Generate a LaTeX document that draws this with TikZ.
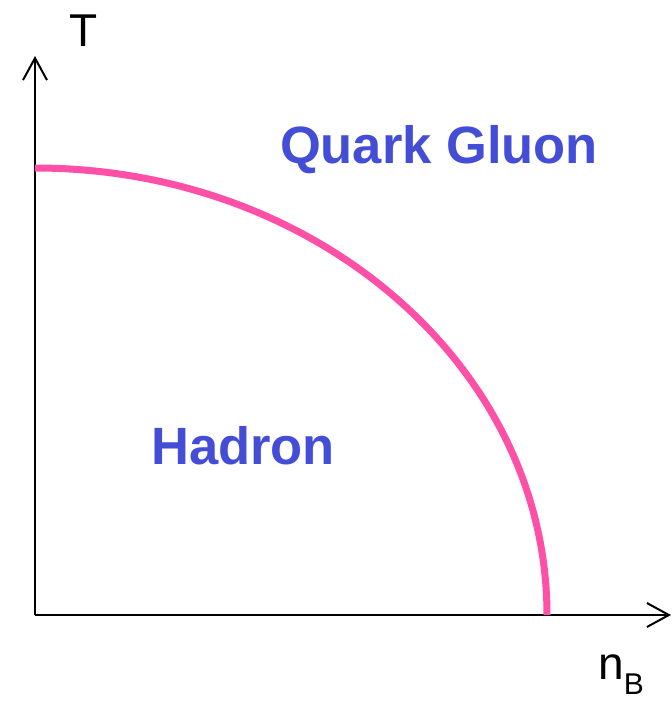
\documentclass[tikz,border=0pt]{standalone}
\usepackage{fontspec}
\setmainfont{Liberation Sans}
\usetikzlibrary{arrows.meta}
\definecolor{phaseblue}{RGB}{67,77,214}
\definecolor{phasepink}{RGB}{255,80,168}
\tikzset{
  axisline/.style={line width=2pt, -{Straight Barb[length=22pt,width=24pt,line width=2pt]}},
  phaselabel/.style={text=phaseblue, font=\fontsize{52.5}{60}\selectfont\bfseries, inner sep=0pt, anchor=base},
  axislabel/.style={font=\fontsize{46}{54}\selectfont, inner sep=0pt, anchor=base},
  boundary/.style={phasepink, line width=7pt}
}
\begin{document}
\begin{tikzpicture}[x=1pt,y=-1pt]
\useasboundingbox (0,0) rectangle (672,702);
\coordinate (origin) at (35,615);
\coordinate (ytip) at (35,56);
\coordinate (xtip) at (671,615);
\coordinate (ctop) at (35,168);
\draw[axisline] (origin) -- (ytip);
\draw[axisline] (origin) -- (xtip);
\draw[boundary] (ctop) arc[start angle=90, end angle=0, x radius=512, y radius=-447];
\node[axislabel] (tlabel) at (84,46) {T};
\node[axislabel, anchor=base west] (nlabel) at (598,679) {n\raisebox{-15pt}{\fontsize{30}{34}\selectfont B}};
\node[phaselabel] (qgp) at (439,163) {Quark Gluon};
\node[phaselabel] (hadron) at (243,464) {Hadron};
\end{tikzpicture}
\end{document}
